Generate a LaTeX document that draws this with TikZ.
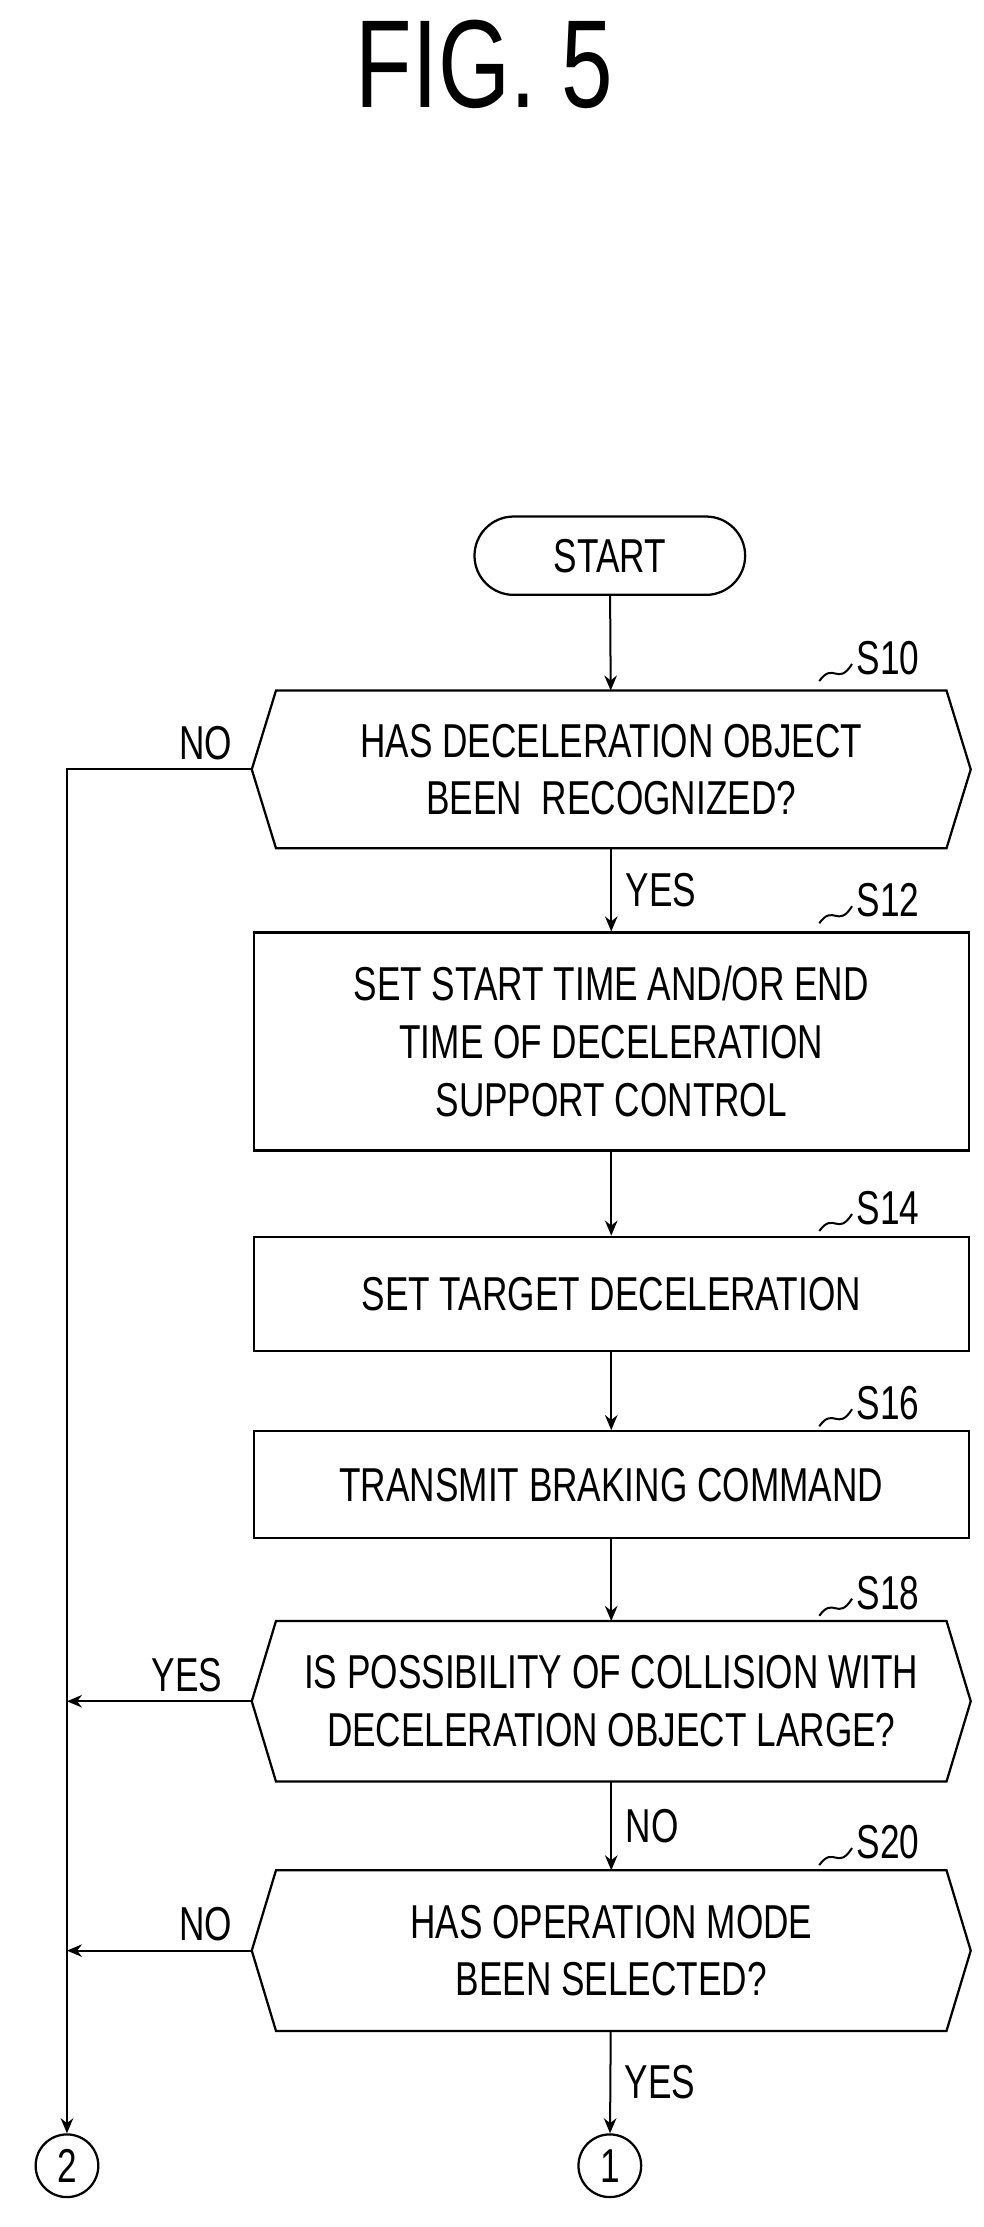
\documentclass[tikz,border=0pt]{standalone}
\usepackage{fontspec}
\setmainfont{Liberation Sans}[FakeStretch=0.74]
\usetikzlibrary{arrows.meta, positioning}

\newcommand{\hexbox}[1]{%
  \draw[line width=0.9pt] (#1.north west) -- ([xshift=-0.34cm]#1.west) -- (#1.south west)
    -- (#1.south east) -- ([xshift=0.34cm]#1.east) -- (#1.north east) -- cycle;}
\newcommand{\steplabel}[3]{%
  \draw[line width=0.8pt] ({#1-45},{#2+16}) .. controls ({#1-35},{#2+2}) and ({#1-32},{#2+20}) .. ({#1-22},{#2+4});
  \node[anchor=west, font=\fontsize{19}{21}\selectfont] at ({#1-25},#2) {#3};}

\begin{document}
\begin{tikzpicture}[
  x=0.02cm, y=-0.02cm,
  every node/.append style={font=\fontsize{19}{23}\selectfont},
  box/.style={rectangle, draw, line width=0.9pt, minimum width=10.04cm, align=center},
  hexa/.style={rectangle, minimum width=9.4cm, minimum height=2.2cm, align=center},
  term/.style={rectangle, draw, line width=0.9pt, rounded corners=0.55cm, minimum width=3.8cm, minimum height=1.1cm},
  conn/.style={circle, draw, line width=0.9pt, minimum size=0.88cm, inner sep=0pt},
  arrow/.style={-{Stealth[length=6pt,width=5pt]}, line width=0.8pt}
]
\useasboundingbox (0,0) rectangle (690,1563);

% Title
\node[font=\fontsize{50}{56}\selectfont] (title) at (340,45) {FIG. 5};

% Nodes
\node[term] (start) at (428,390) {START};
\node[hexa] (s10) at (429,540) {HAS DECELERATION OBJECT\\BEEN\ \ RECOGNIZED?};
\node[box, minimum height=3.06cm] (s12) at (429,731) {SET START TIME AND/OR END\\TIME OF DECELERATION\\SUPPORT CONTROL};
\node[box, minimum height=1.6cm] (s14) at (429,908) {SET TARGET DECELERATION};
\node[box, minimum height=1.5cm] (s16) at (429,1042) {TRANSMIT BRAKING COMMAND};
\node[hexa, minimum height=2.24cm] (s18) at (429,1194) {IS POSSIBILITY OF COLLISION WITH\\DECELERATION OBJECT LARGE?};
\node[hexa, minimum height=2.24cm] (s20) at (429,1369) {HAS OPERATION MODE\\BEEN SELECTED?};
\node[conn] (c1) at (428,1520) {1};
\node[conn] (c2) at (47,1520) {2};
\hexbox{s10}
\hexbox{s18}
\hexbox{s20}

% Step labels
\steplabel{620}{462}{S10}
\steplabel{620}{632}{S12}
\steplabel{620}{848}{S14}
\steplabel{620}{985}{S16}
\steplabel{620}{1118}{S18}
\steplabel{620}{1293}{S20}

% Arrows
\draw[arrow] (start) -- (s10);
\draw[arrow] (s10) -- node[right, xshift=2pt] {YES} (s12);
\draw[arrow] (s12) -- (s14);
\draw[arrow] (s14) -- (s16);
\draw[arrow] (s16) -- (s18);
\draw[arrow] (s18) -- node[right, xshift=2pt] {NO} (s20);
\draw[arrow] (s20) -- node[right, xshift=2pt] {YES} (c1);
\coordinate (j18) at (47,1194);
\coordinate (j20) at (47,1369);
\draw[arrow] ([xshift=-0.34cm]s10.west) -- node[above, pos=0.25] {NO} (47,540) -- (c2);
\draw[arrow] ([xshift=-0.34cm]s18.west) -- node[above, pos=0.35] {YES} (j18);
\draw[arrow] ([xshift=-0.34cm]s20.west) -- node[above, pos=0.25] {NO} (j20);

\end{tikzpicture}
\end{document}
